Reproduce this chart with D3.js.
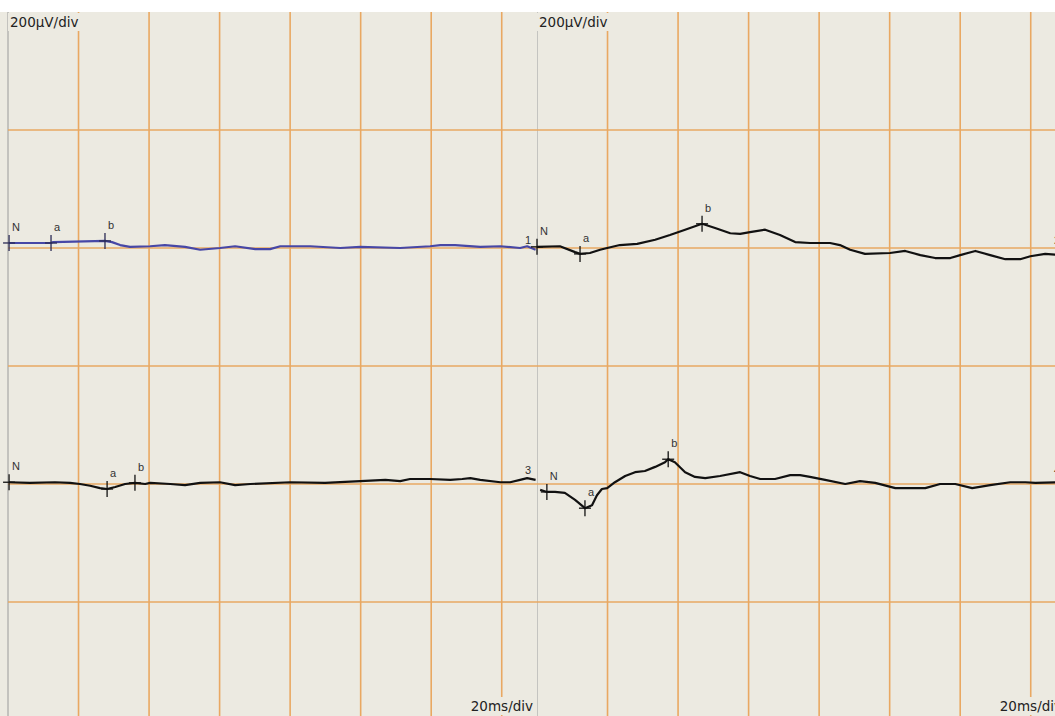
<!DOCTYPE html>
<html><head><meta charset="utf-8">
<script src="https://cdn.jsdelivr.net/npm/d3@7"></script>
<style>html,body{margin:0;padding:0;background:#fff;overflow:hidden}</style>
</head><body><svg id="c" width="1055" height="716"></svg>
<script>
// ---- data ----
const ampLabel = "200µV/div";
const timeLabel = "20ms/div";
const traceNames = ["1", "2", "3", "4"];
const markerNames = ["N", "a", "b"];

// trace 1 (top-left, blue)
const t1 = [0.3,12.2,12.8,27.5,29.5,31.8,34.6,40.3,44.5,50.2,54.5,60.1,64.4,70.1,74.3,77.2,85.7,94.2,99.9,111.2,119.7,122.6,126.8,133.9,139.6,145.2,147.2,149.6];
const v1 = [8.5,8.5,10,12,10,5,2,3,5,2,-3,0,3,-2,-2,3,3,0,2,0,3,5,5,2,3,0,3,-3];
// trace 2 (top-right)
const t2 = [0,6.5,10.8,12.2,15.0,17.9,19.9,23.5,28.4,33.5,37.7,42.0,46.8,50.5,54.8,57.6,60.4,64.7,68.9,73.2,77.4,83.1,85.9,88.8,93.0,100.1,104.4,108.7,112.9,117.2,120.0,124.3,128.5,132.8,137.0,139.9,144.1,148.4];
const v2 = [2,3,-7,-10,-8.5,-3,0,5,7,14,22,31,41,34,25,24,27,31,22,10,8.5,8.5,5,-3,-10,-8.5,-5,-12,-17,-17,-12,-5,-12,-19,-19,-14,-10,-12];
// trace 3 (bottom-left)
const t3 = [0.3,6.2,13.3,17.6,20.4,23.3,26.1,28.1,30.4,33.2,36.0,38.9,40.3,46.0,50.2,54.5,60.1,64.4,68.7,80.0,89.9,99.9,107.0,111.2,114.0,119.7,125.4,128.8,131.1,133.9,139.6,142.4,145.2,147.2,149.6];
const v3 = [3,2,3,2,0,-3,-7,-8.5,-5,0,2,0,2,0,-2,2,3,-2,0,3,2,5,7,5,8.5,8.5,7,8.5,10,7,3,3,7,10,7];
// trace 4 (bottom-right)
const t4 = [0.9,2.8,5.1,7.9,10.8,13.6,15.6,17.0,18.4,19.9,22.1,25.0,27.8,30.6,33.5,36.3,37.2,39.1,42.0,44.8,47.7,51.9,57.6,60.4,63.3,67.5,71.8,74.6,77.4,81.7,87.4,91.6,95.9,101.6,110.1,114.3,118.6,123.4,128.5,134.2,138.5,141.3,148.4];
const v4 = [-10,-13.5,-13.5,-15,-27,-41,-36,-19,-8.5,-7,3,13.5,20,22,29,37,42,37,20,12,10,13.5,20,13.5,8.5,8.5,15,15,12,7,0,5,2,-7,-7,0,0,-7,-2,3,3,2,3];

// markers N, a, b per trace (ms, µV)
const m1t = [0.3, 12.2, 27.5], m1v = [8.5, 8.5, 12];
const m2t = [0, 12.2, 46.8],   m2v = [2, -10, 41];
const m3t = [0.3, 28.1, 36.0], m3v = [3, -8.5, 2];
const m4t = [2.8, 13.6, 37.2], m4v = [-13.5, -41, 42];

// ---- layout ----
const W = 1055, H = 716, TOP = 12;
const panelX = [8, 537], PW = 529;
const BG = "#ECEAE1", GRID = "#E9A862";

const svg = d3.select("#c");
svg.append("rect").attr("x",0).attr("y",0).attr("width",W).attr("height",H).attr("fill","#fff");
svg.append("rect").attr("x",0).attr("y",TOP).attr("width",W).attr("height",H-TOP).attr("fill",BG);

const xs = panelX.map(x0 => d3.scaleLinear().domain([0,150]).range([x0, x0+PW]));
const yTop = d3.scaleLinear().domain([-400,400]).range([484,12]);
const yBot = d3.scaleLinear().domain([-400,400]).range([720,248]);

// panel dividers
svg.append("line").attr("x1",8).attr("x2",8).attr("y1",TOP).attr("y2",H).attr("stroke","#9a9a9a").attr("stroke-width",1);
svg.append("line").attr("x1",537.5).attr("x2",537.5).attr("y1",TOP).attr("y2",H).attr("stroke","#c4c4c0").attr("stroke-width",1);

// grid
const grid = svg.append("g");
xs.forEach(x => {
  d3.range(20,150,20).forEach(t => {
    grid.append("line").attr("x1",x(t)).attr("x2",x(t)).attr("y1",TOP).attr("y2",H)
      .attr("stroke",GRID).attr("stroke-width",1.6);
  });
});
[200,0,-200,-400,-600].forEach(v => {
  grid.append("line").attr("x1",8).attr("x2",W).attr("y1",yTop(v)).attr("y2",yTop(v))
    .attr("stroke",GRID).attr("stroke-width",1.6);
});

// labels with background
function bgLabel(x, y, txt, anchor) {
  const g = svg.append("g");
  const r = g.append("rect").attr("fill",BG);
  const t = g.append("text").attr("x",x).attr("y",y).text(txt)
    .attr("text-anchor",anchor).attr("font-family","DejaVu Sans, sans-serif")
    .attr("font-size",13.5).attr("fill","#222");
  const b = t.node().getBBox();
  r.attr("x",b.x-2).attr("y",b.y-1).attr("width",b.width+4).attr("height",b.height+2);
}
panelX.forEach((x0,i) => {
  bgLabel(x0+2, 27, ampLabel, "start");
  bgLabel(x0+PW-4, 711, timeLabel, "end");
});

// traces
const traces = [
  {t:t1, v:v1, x:xs[0], y:yTop, color:"#4747a6", mt:m1t, mv:m1v, tick:"#2b2b55", name:traceNames[0]},
  {t:t2, v:v2, x:xs[1], y:yTop, color:"#111", mt:m2t, mv:m2v, tick:"#111", name:traceNames[1]},
  {t:t3, v:v3, x:xs[0], y:yBot, color:"#111", mt:m3t, mv:m3v, tick:"#111", name:traceNames[2]},
  {t:t4, v:v4, x:xs[1], y:yBot, color:"#111", mt:m4t, mv:m4v, tick:"#111", name:traceNames[3]}
];

traces.forEach(tr => {
  const pts = tr.t.map((t,i) => [t, tr.v[i]]);
  const line = d3.line().x(d => tr.x(d[0])).y(d => tr.y(d[1]));
  svg.append("path").attr("d", line(pts)).attr("fill","none")
    .attr("stroke", tr.color).attr("stroke-width", 2.2).attr("stroke-linejoin","round");
  // markers
  tr.mt.forEach((t,i) => {
    const px = tr.x(t), py = tr.y(tr.mv[i]);
    svg.append("line").attr("x1",px).attr("x2",px).attr("y1",py-8).attr("y2",py+8)
      .attr("stroke",tr.tick).attr("stroke-width",1.3);
    svg.append("line").attr("x1",px-6).attr("x2",px+6).attr("y1",py).attr("y2",py)
      .attr("stroke",tr.tick).attr("stroke-width",1.3);
    svg.append("text").attr("x",px+3).attr("y",py-12).text(markerNames[i])
      .attr("font-family","Liberation Sans, Arial, sans-serif").attr("font-size",11).attr("fill","#333");
  });
  // trace number near end of panel
  svg.append("text").attr("x", tr.x(150)-12).attr("y", tr.y(0)-4 - (tr.y===yBot ? 6 : 0))
    .text(tr.name).attr("font-family","Liberation Sans, Arial, sans-serif").attr("font-size",11).attr("fill","#333");
});
</script></body></html>
